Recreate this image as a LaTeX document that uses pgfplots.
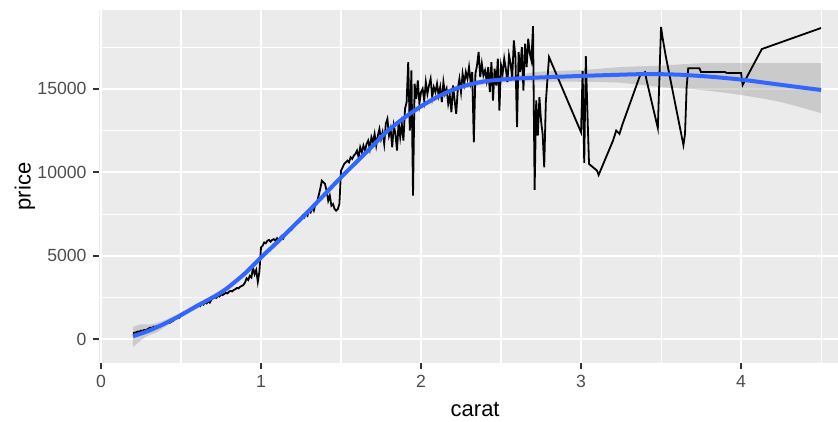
\documentclass[border=0pt]{standalone}
\usepackage{pgfplots}
\pgfplotsset{compat=1.18}
\usepgfplotslibrary{fillbetween}
\usepackage{fontspec}
\setmainfont{Liberation Sans}
\definecolor{panel}{HTML}{EBEBEB}
\definecolor{ticktext}{HTML}{4D4D4D}
\definecolor{tickcol}{HTML}{333333}
\definecolor{smoothblue}{HTML}{3366FF}
\definecolor{ribbon}{HTML}{999999}
\begin{document}
\begin{tikzpicture}
\begin{axis}[
  name=ax,
  scale only axis, width=369.5pt, height=176.5pt,
  xmin=-0.0125, xmax=4.606, ymin=-1419, ymax=19718,
  axis line style={draw=none},
  axis background/.style={fill=panel},
  xtick={0,1,2,3,4}, ytick={0,5000,10000,15000},
  minor xtick={0.5,1.5,2.5,3.5,4.5}, minor ytick={2500,7500,12500,17500},
  scaled y ticks=false,
  grid=both,
  major grid style={white, line width=1.07pt},
  minor grid style={white, line width=0.53pt},
  tick align=outside, tick pos=left,
  major tick length=2.75pt, minor tick length=0pt,
  tick style={tickcol, line width=1.07pt},
  tick label style={font=\fontsize{8.8}{10}\selectfont, text=ticktext},
  /pgf/number format/1000 sep={},
  /pgf/number format/assume math mode=true,
  label style={font=\fontsize{11}{13}\selectfont, text=black},
  xlabel={carat}, ylabel={price},
  xlabel style={at={(axis description cs:0.509,-0.1331)}, anchor=center},
  ylabel style={at={(axis description cs:-0.1001,0.5)}, anchor=center},
]
% black line: price by carat
\addplot[black, line width=0.9pt] table {
x y
0.20 380
0.21 390
0.22 420
0.23 470
0.24 450
0.25 520
0.26 500
0.27 560
0.28 540
0.29 600
0.30 660
0.31 700
0.32 690
0.33 760
0.34 740
0.35 800
0.36 780
0.37 830
0.38 880
0.39 910
0.40 960
0.41 950
0.42 1010
0.43 990
0.44 1060
0.45 1100
0.46 1200
0.47 1250
0.48 1300
0.49 1290
0.50 1500
0.51 1560
0.52 1620
0.53 1660
0.54 1700
0.55 1740
0.56 1820
0.57 1790
0.58 1860
0.59 1910
0.60 1950
0.61 2050
0.62 1990
0.63 2150
0.64 2080
0.65 2220
0.66 2150
0.67 2300
0.68 2200
0.69 2380
0.70 2450
0.71 2530
0.72 2480
0.73 2600
0.74 2560
0.75 2700
0.76 2650
0.77 2720
0.78 2780
0.79 2750
0.80 2850
0.81 2900
0.82 2870
0.83 2960
0.84 3000
0.85 3080
0.86 3050
0.87 3150
0.88 3200
0.89 3250
0.90 3400
0.91 3650
0.92 3550
0.93 3800
0.94 3700
0.95 4300
0.96 3900
0.97 4150
0.98 3450
0.99 4050
1.00 5500
1.01 5600
1.02 5800
1.03 5750
1.04 5900
1.05 5950
1.06 5850
1.07 5950
1.08 6000
1.09 5900
1.10 6050
1.11 5950
1.12 6100
1.13 6200
1.14 6050
1.15 6300
1.16 6400
1.17 6500
1.18 6600
1.19 6550
1.20 6800
1.21 6900
1.22 7000
1.23 7100
1.24 7050
1.25 7200
1.26 7400
1.27 7300
1.28 7500
1.29 7400
1.30 7700
1.31 7600
1.32 7900
1.33 7700
1.34 8100
1.35 8200
1.36 8600
1.37 9000
1.38 9500
1.39 9400
1.40 9300
1.41 8900
1.42 8300
1.43 8600
1.44 8000
1.45 8100
1.46 7800
1.47 7700
1.48 7800
1.49 8100
1.50 10100
1.51 10300
1.52 10500
1.53 10600
1.54 10700
1.55 10600
1.56 10900
1.57 10800
1.58 11000
1.59 11100
1.60 11300
1.61 10900
1.62 11500
1.63 11200
1.64 11600
1.65 11300
1.66 11700
1.67 11900
1.68 11400
1.69 12100
1.70 11800
1.71 12300
1.72 11600
1.73 12200
1.74 12600
1.75 12000
1.76 12400
1.77 11700
1.78 12900
1.79 13200
1.80 12200
1.81 12600
1.82 11500
1.83 12800
1.84 12300
1.85 11300
1.86 13000
1.87 12100
1.88 12900
1.89 11900
1.90 13800
1.91 14200
1.92 16600
1.93 12500
1.94 16100
1.95 8600
1.96 15300
1.97 14400
1.98 15500
1.99 14100
2.00 14800
2.01 15000
2.02 14300
2.03 15400
2.04 14700
2.05 15200
2.06 15600
2.07 14500
2.08 15100
2.09 14800
2.10 15300
2.11 14600
2.12 15100
2.13 14200
2.14 15400
2.15 14700
2.16 15000
2.17 14100
2.18 14600
2.19 13600
2.20 15200
2.21 14300
2.22 13500
2.23 15000
2.24 15600
2.25 14800
2.26 15900
2.27 15300
2.28 16000
2.29 15600
2.30 16300
2.31 15400
2.32 16000
2.33 11800
2.34 15900
2.35 16400
2.36 17200
2.37 15700
2.38 16500
2.39 15800
2.40 16100
2.41 15500
2.42 16300
2.43 14800
2.44 16600
2.45 14300
2.46 16200
2.47 15200
2.48 16800
2.49 13700
2.50 16400
2.51 15900
2.52 16800
2.53 16200
2.54 15400
2.55 17000
2.56 16500
2.57 15600
2.58 17900
2.59 16900
2.60 12700
2.61 17200
2.62 16000
2.63 17500
2.64 14900
2.65 17700
2.66 16300
2.67 18000
2.68 17100
2.69 16700
2.70 18750
2.71 8950
2.72 14300
2.73 12200
2.74 14500
2.75 13100
2.76 12300
2.77 10300
2.78 14200
2.80 16900
3.00 12400
3.01 16050
3.02 10560
3.03 16950
3.04 13550
3.05 10500
3.10 10100
3.11 9840
3.20 11900
3.22 12500
3.24 12300
3.26 12900
3.37 15830
3.40 16000
3.41 15500
3.48 12650
3.50 18700
3.51 18040
3.53 16930
3.64 11630
3.65 12300
3.66 15100
3.67 16230
3.74 16230
3.75 16000
3.90 16000
3.91 15950
4.00 15950
4.01 15230
4.13 17380
4.50 18640
};
% confidence band
\addplot[name path=upper, draw=none, forget plot, smooth] table {
x y
0.20 740
0.25 900
0.30 880
0.35 980
0.40 1150
0.50 1600
0.60 2150
0.70 2660
0.80 3300
0.90 4100
1.00 5050
1.20 6900
1.40 8850
1.60 10800
1.80 12700
2.00 14100
2.20 15100
2.40 15620
2.50 15730
2.60 15820
2.74 16020
3.00 16120
3.25 16300
3.50 16390
3.75 16530
4.00 16530
4.25 16530
4.50 16530
};
\addplot[name path=lower, draw=none, forget plot, smooth] table {
x y
0.20 -460
0.25 -50
0.30 250
0.35 420
0.40 750
0.50 1300
0.60 1850
0.70 2380
0.80 3000
0.90 3800
1.00 4750
1.20 6600
1.40 8550
1.60 10500
1.80 12400
2.00 13800
2.20 14800
2.40 15280
2.50 15370
2.60 15420
2.74 15430
3.00 15420
3.25 15360
3.50 15100
3.75 14930
4.00 14630
4.25 14200
4.50 13540
};
\addplot[fill=ribbon, fill opacity=0.4, draw=none, forget plot] fill between[of=upper and lower];
% smooth fit
\addplot[smoothblue, line width=2pt, smooth] table {
x y
0.20 180
0.30 520
0.40 950
0.50 1450
0.60 2000
0.70 2520
0.75 2800
0.80 3150
0.90 3950
1.00 4900
1.10 5800
1.20 6750
1.25 7220
1.30 7700
1.40 8700
1.50 9700
1.60 10650
1.70 11600
1.75 12100
1.80 12550
1.90 13300
2.00 13950
2.10 14500
2.20 14950
2.30 15250
2.40 15450
2.50 15550
2.60 15620
2.80 15700
3.00 15770
3.20 15830
3.40 15880
3.60 15850
3.80 15730
4.00 15550
4.20 15300
4.40 15050
4.50 14930
};
\end{axis}
\pgfresetboundingbox
\path[use as bounding box] ([xshift=-49.5pt,yshift=-29pt]ax.south west) rectangle ([yshift=5pt]ax.north east);
\end{tikzpicture}
\end{document}
